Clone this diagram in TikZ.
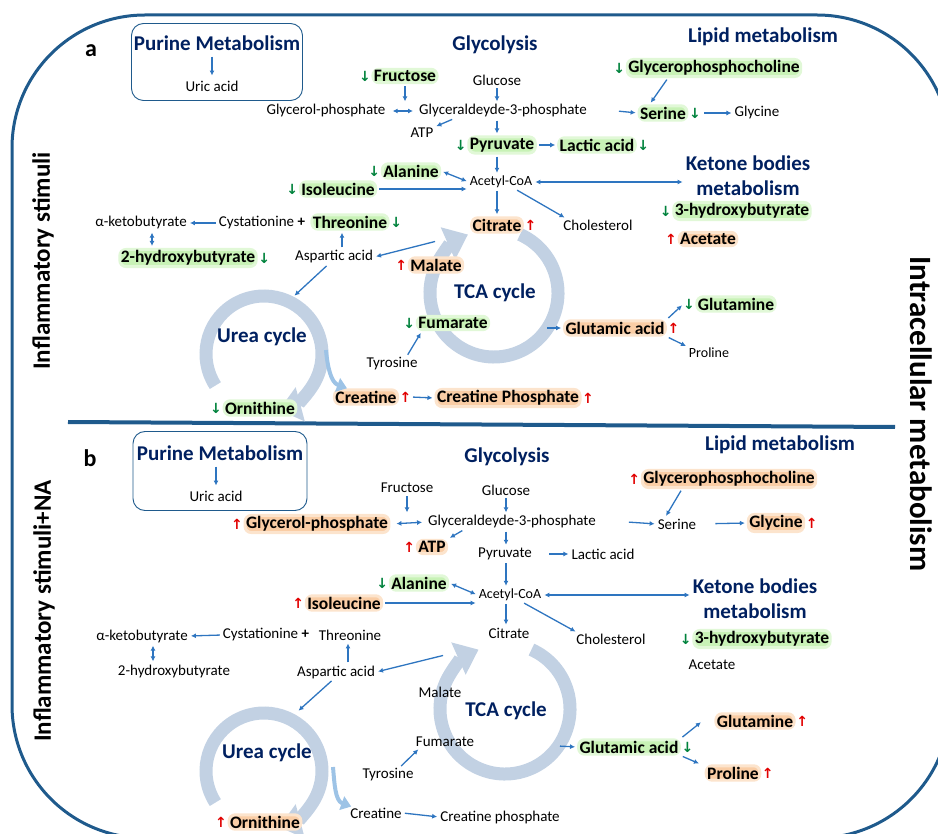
\documentclass[tikz,border=0pt]{standalone}
\usepackage{fontspec}
\setmainfont{Carlito}
\newfontfamily\symf{DejaVu Sans}
\usetikzlibrary{arrows.meta,calc}
\definecolor{rimblue}{RGB}{31,90,140}
\definecolor{hdblue}{RGB}{0,32,96}
\definecolor{lnkblue}{RGB}{46,117,192}
\definecolor{cycgray}{RGB}{194,209,227}
\definecolor{cyclight}{RGB}{157,195,230}
\definecolor{glowg}{RGB}{200,242,182}
\definecolor{glowo}{RGB}{250,205,165}
\definecolor{arrg}{RGB}{0,130,60}
\definecolor{arrr}{RGB}{225,0,0}
\newcommand\dnar{{\symf\bfseries\char"2193}}
\newcommand\upar{{\symf\bfseries\char"2191}}
\tikzset{
  met/.style={font=\fontsize{15}{17}\selectfont, inner sep=1pt},
  metsm/.style={font=\fontsize{14}{16}\selectfont, inner sep=1pt},
  hdr/.style={font=\fontsize{21}{25}\selectfont\bfseries, text=hdblue, align=center, inner sep=1pt},
  side/.style={font=\fontsize{25}{28}\selectfont\bfseries, inner sep=1pt},
  decr/.style={font=\fontsize{17.5}{20}\selectfont\bfseries, fill=glowg, draw=glowg!55, line width=3pt, rounded corners=6pt, inner sep=1pt},
  incr/.style={font=\fontsize{17.5}{20}\selectfont\bfseries, fill=glowo, draw=glowo!55, line width=3pt, rounded corners=6pt, inner sep=1pt},
  arrmk/.style={font=\fontsize{14}{15}\selectfont, inner sep=0.5pt},
  dnL/.style={label={[arrmk,text=arrg]left:\dnar}},
  dnR/.style={label={[arrmk,text=arrg]right:\dnar}},
  upL/.style={label={[arrmk,text=arrr]left:\upar}},
  upR/.style={label={[arrmk,text=arrr]right:\upar}},
  lnk/.style={draw=lnkblue, line width=1.3pt, -{Latex[length=5pt,width=5pt]}, shorten <=2pt, shorten >=2pt},
  dlnk/.style={lnk, {Latex[length=5pt,width=5pt]}-{Latex[length=5pt,width=5pt]}},
  ring/.style={draw=cycgray, line width=13pt, -{Triangle[length=22pt,width=34pt]}},
  ringout/.style={draw=cyclight, line width=4pt, -{Triangle[length=10pt,width=14pt]}},
  boxp/.style={draw=rimblue, line width=0.9pt, rounded corners=12pt},
  rim/.style={draw=rimblue, line width=3pt, rounded corners=133pt}
}
\begin{document}
\begin{tikzpicture}[x=1pt,y=1pt]
  \useasboundingbox (0,0) rectangle (938,-834);
  \begin{scope}
    \clip (0,0) rectangle (938,-834);
    \draw[rim] (12,-15) rectangle (950,-838);
  \end{scope}
  \draw[rim, line width=4pt] (68,-422) -- (895,-427);
  \node[side,rotate=90] (sideA) at (43,-261) {Inflammatory stimuli};
  \node[side,rotate=90] (sideB) at (44,-611) {Inflammatory stimuli+NA};
  \node[side,rotate=-90,font=\fontsize{31}{34}\selectfont\bfseries] (sideR) at (921,-414) {Intracellular metabolism};

  \draw[ring] (494,-293) ++(66:64pt) arc[start angle=66, end angle=-246, radius=64pt];
  \draw[ring] (264,-354) ++(213:58pt) arc[start angle=213, end angle=-75, radius=58pt];
  \draw[ring] (505,-709) ++(66:65pt) arc[start angle=66, end angle=-246, radius=65pt];
  \draw[ring] (264,-771) ++(213:58pt) arc[start angle=213, end angle=-75, radius=58pt];

  \node[font=\fontsize{24}{26}\selectfont\bfseries] (pa) at (91,-51) {a};
  \node[boxp, minimum width=171pt, minimum height=77pt] (boxA) at (217,-62) {};
  \node[hdr] (hpurA) at (217,-43) {Purine Metabolism};
  \node[met] (uriA) at (212,-86) {Uric acid};
  \node[hdr] (hglyA) at (495,-45) {Glycolysis};
  \node[hdr] (hlipA) at (763,-37) {Lipid metabolism};
  \node[decr,dnL] (fruA) at (405,-76) {Fructose};
  \node[met] (glcA) at (497,-80) {Glucose};
  \node[met] (gpA) at (326,-111) {Glycerol-phosphate};
  \node[met] (g3pA) at (503,-111) {Glyceraldeyde-3-phosphate};
  \node[met] (atpA) at (422,-133) {ATP};
  \node[decr,dnL] (pyrA) at (502,-145) {Pyruvate};
  \node[decr,dnR] (lacA) at (597,-145) {Lactic acid};
  \node[metsm] (acaA) at (501,-182) {Acetyl-CoA};
  \node[decr,dnL] (alaA) at (411,-171) {Alanine};
  \node[decr,dnL] (ileA) at (338,-189) {Isoleucine};
  \node[incr,upR] (citA) at (497,-225) {Citrate};
  \node[met] (choA) at (598,-225) {Cholesterol};
  \node[hdr] (hketA) at (748,-176) {Ketone bodies\\metabolism};
  \node[decr,dnL] (hbtA) at (742,-211) {3-hydroxybutyrate};
  \node[incr,upL] (aceA) at (708,-239) {Acetate};
  \node[decr,dnL] (gpcA) at (714,-68) {Glycerophosphocholine};
  \node[decr,dnR] (serA) at (663,-113) {Serine};
  \node[met] (gcyA) at (757,-113) {Glycine};
  \node[met] (akbA) at (141,-223) {α-ketobutyrate};
  \node[met] (cysA) at (262,-223) {Cystationine \textbf{+}};
  \node[decr,dnR] (thrA) at (350,-222) {Threonine};
  \node[decr,dnR] (hbA) at (188,-258) {2-hydroxybutyrate};
  \node[met] (aspA) at (334,-257) {Aspartic acid};
  \node[incr,upL] (malA) at (436,-265) {Malate};
  \node[hdr] (ureA) at (262,-337) {Urea cycle};
  \node[hdr] (tcaA) at (495,-293) {TCA cycle};
  \node[decr,dnL] (fumA) at (453,-323) {Fumarate};
  \node[met] (tyrA) at (392,-364) {Tyrosine};
  \node[incr,upR] (creA) at (366,-397) {Creatine};
  \node[incr,upR] (cpA) at (508,-398) {Creatine Phosphate};
  \node[decr,dnL] (ornA) at (260,-408) {Ornithine};
  \node[incr,upR] (gluA) at (615,-328) {Glutamic acid};
  \node[decr,dnL] (glnA) at (736,-304) {Glutamine};
  \node[metsm] (proA) at (709,-353) {Proline};
  \coordinate (tcaoutA) at (437,-241);
  \coordinate (ureinA) at (293,-297);
  \coordinate (ureoutA) at (326,-350);
  \coordinate (tcaglA) at (545,-328);

  \draw[lnk, shorten <=5pt, shorten >=4pt] (hpurA.south -| uriA) -- (uriA.north);
  \draw[lnk] (fruA.south) -- (fruA.south |- g3pA.north);
  \draw[lnk] (glcA.south) -- (glcA.south |- g3pA.north);
  \draw[dlnk, shorten <=6pt, shorten >=5pt] (gpA.east) -- (g3pA.west);
  \draw[lnk] ([xshift=36pt]g3pA.south west) -- (atpA.north east);
  \draw[lnk] (glcA.south |- g3pA.south) -- (glcA.south |- pyrA.north);
  \draw[lnk] (pyrA.east) -- (lacA.west);
  \draw[lnk] (glcA.south |- pyrA.south) -- (glcA.south |- acaA.north);
  \draw[dlnk] (acaA.east) -- (acaA.east -| hketA.west);
  \draw[dlnk] (alaA.east) -- (acaA.west);
  \draw[lnk] (ileA.east) -- (ileA.east -| acaA.west);
  \draw[lnk] (glcA.south |- acaA.south) -- (glcA.south |- citA.north);
  \draw[lnk] ([xshift=-18pt]acaA.south east) -- ([xshift=4pt]choA.north west);
  \draw[lnk] ([xshift=-46pt]gpcA.south) -- ([xshift=12pt]serA.north west);
  \draw[lnk] ([xshift=29pt]g3pA.east) -- (serA.west);
  \draw[lnk] ([xshift=14pt]serA.east) -- (gcyA.west);
  \draw[lnk] (cysA.west) -- (akbA.east);
  \draw[dlnk] ([xshift=11pt]akbA.south) -- ([xshift=11pt]akbA.south |- hbA.north);
  \draw[lnk] ([xshift=8pt]aspA.north) -- ([xshift=8pt]aspA.north |- thrA.south);
  \draw[lnk] (tcaoutA) -- (aspA.east);
  \draw[lnk] ([xshift=-6pt]aspA.south) -- (ureinA);
  \draw[lnk] ([xshift=-12pt]tyrA.north east) -- ([xshift=6pt]fumA.south west);
  \draw[lnk] ([xshift=12pt]creA.east) -- (cpA.west);
  \draw[lnk] (tcaglA) -- (gluA.west);
  \draw[lnk] (gluA.north east) -- ([xshift=-12pt]glnA.west);
  \draw[lnk] (gluA.south east) -- (proA.north west);
  \draw[ringout] (ureoutA) to[out=-85,in=160] ([xshift=14pt]creA.north west);

  \node[font=\fontsize{24}{26}\selectfont\bfseries] (pb) at (90,-458) {b};
  \node[boxp, minimum width=174pt, minimum height=79pt] (boxB) at (220,-471) {};
  \node[hdr] (hpurB) at (220,-453) {Purine Metabolism};
  \node[met] (uriB) at (216,-496) {Uric acid};
  \node[hdr] (hglyB) at (507,-457) {Glycolysis};
  \node[hdr] (hlipB) at (780,-445) {Lipid metabolism};
  \node[met] (fruB) at (407,-488) {Fructose};
  \node[met] (glcB) at (506,-490) {Glucose};
  \node[incr,upL] (gpB) at (317,-524) {Glycerol-phosphate};
  \node[met] (g3pB) at (512,-522) {Glyceraldeyde-3-phosphate};
  \node[incr,upL] (atpB) at (432,-547) {ATP};
  \node[met] (pyrB) at (505,-554) {Pyruvate};
  \node[met] (lacB) at (603,-554) {Lactic acid};
  \node[metsm] (acaB) at (510,-595) {Acetyl-CoA};
  \node[decr,dnL] (alaB) at (419,-583) {Alanine};
  \node[incr,upL] (ileB) at (344,-603) {Isoleucine};
  \node[met] (citB) at (509,-633) {Citrate};
  \node[met] (choB) at (611,-639) {Cholesterol};
  \node[hdr] (hketB) at (755,-599) {Ketone bodies\\metabolism};
  \node[decr,dnL] (hbtB) at (762,-639) {3-hydroxybutyrate};
  \node[met] (aceB) at (712,-665) {Acetate};
  \node[incr,upL] (gpcB) at (729,-479) {Glycerophosphocholine};
  \node[met] (serB) at (677,-524) {Serine};
  \node[incr,upR] (gcyB) at (776,-523) {Glycine};
  \node[met] (akbB) at (142,-636) {α-ketobutyrate};
  \node[met] (cysB) at (266,-635) {Cystationine \textbf{+}};
  \node[met] (thrB) at (350,-635) {Threonine};
  \node[met] (hbB) at (174,-671) {2-hydroxybutyrate};
  \node[met] (aspB) at (336,-672) {Aspartic acid};
  \node[met] (malB) at (440,-692) {Malate};
  \node[hdr] (ureB) at (267,-753) {Urea cycle};
  \node[hdr] (tcaB) at (506,-711) {TCA cycle};
  \node[met] (fumB) at (445,-742) {Fumarate};
  \node[met] (tyrB) at (388,-775) {Tyrosine};
  \node[met] (creB) at (376,-813) {Creatine};
  \node[met] (cpB) at (500,-817) {Creatine phosphate};
  \node[incr,upL] (ornB) at (265,-822) {Ornithine};
  \node[decr,dnR] (gluB) at (629,-747) {Glutamic acid};
  \node[incr,upR] (glnB) at (755,-721) {Glutamine};
  \node[incr,upR] (proB) at (733,-773) {Proline};
  \coordinate (tcaoutB) at (445,-655);
  \coordinate (ureinB) at (297,-712);
  \coordinate (ureoutB) at (333,-767);
  \coordinate (tcaglB) at (558,-746);

  \draw[lnk, shorten <=5pt, shorten >=4pt] (hpurB.south -| uriB) -- (uriB.north);
  \draw[lnk] (fruB.south) -- (fruB.south |- g3pB.north);
  \draw[lnk] (glcB.south) -- (glcB.south |- g3pB.north);
  \draw[dlnk, shorten <=6pt, shorten >=5pt] (gpB.east) -- (g3pB.west);
  \draw[lnk] ([xshift=37pt]g3pB.south west) -- (atpB.north east);
  \draw[lnk] (glcB.south |- g3pB.south) -- (glcB.south |- pyrB.north);
  \draw[lnk, shorten <=16pt] (pyrB.east) -- (lacB.west);
  \draw[lnk] (glcB.south |- pyrB.south) -- (glcB.south |- acaB.north);
  \draw[dlnk] (acaB.east) -- (acaB.east -| hketB.west);
  \draw[dlnk] (alaB.east) -- (acaB.west);
  \draw[lnk] (ileB.east) -- (ileB.east -| acaB.west);
  \draw[lnk] (glcB.south |- acaB.south) -- (glcB.south |- citB.north);
  \draw[lnk] ([xshift=-20pt]acaB.south east) -- ([xshift=2pt]choB.north west);
  \draw[lnk] ([xshift=-47pt]gpcB.south) -- ([xshift=-12pt]serB.north);
  \draw[lnk] ([xshift=30pt]g3pB.east) -- (serB.west);
  \draw[lnk, shorten <=18pt] (serB.east) -- (gcyB.west);
  \draw[lnk] (cysB.west) -- (akbB.east);
  \draw[dlnk] ([xshift=11pt]akbB.south) -- ([xshift=11pt]akbB.south |- hbB.north);
  \draw[lnk] ([xshift=12pt]aspB.north) -- ([xshift=12pt]aspB.north |- thrB.south);
  \draw[lnk] (tcaoutB) -- (aspB.east);
  \draw[lnk] ([xshift=-3pt]aspB.south) -- (ureinB);
  \draw[lnk] ([xshift=-15pt]tyrB.north east) -- ([xshift=5pt]fumB.south west);
  \draw[lnk] (creB.east) -- (cpB.west);
  \draw[lnk] (tcaglB) -- (gluB.west);
  \draw[lnk] (gluB.north east) -- ([xshift=-12pt]glnB.west);
  \draw[lnk] (gluB.south east) -- ([xshift=-4pt]proB.north west);
  \draw[ringout] (ureoutB) to[out=-85,in=160] ([xshift=2pt]creB.north west);
\end{tikzpicture}
\end{document}
